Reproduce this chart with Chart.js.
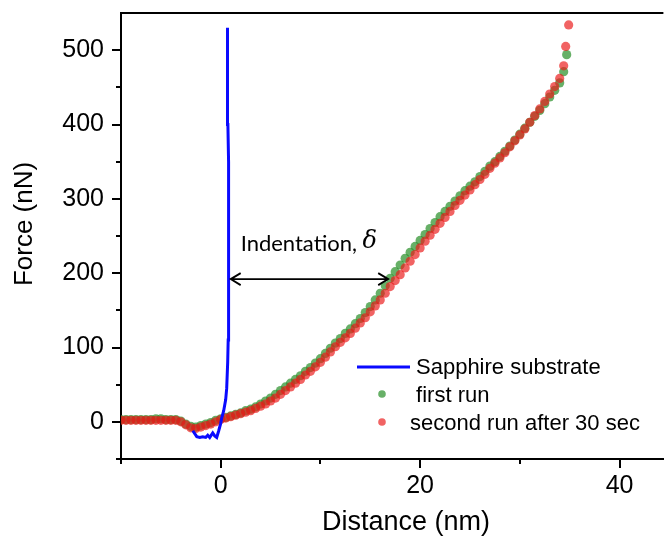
<!DOCTYPE html>
<html>
<head>
<meta charset="utf-8" />
<title>Force vs Distance</title>
<script src="https://cdn.jsdelivr.net/npm/chart.js"></script>
<style>
  body { margin: 0; padding: 0; background: #fff; }
  #wrap { width: 668px; height: 539px; }
</style>
</head>
<body>
<div id="wrap"><canvas id="chart" width="668" height="539"></canvas></div>
<script>
// sapphire substrate (blue line)
var sapphireX = [-2.8, -2.4, -2.1, -1.8, -1.5, -1.3, -1.1, -0.8, -0.6, -0.4, -0.2, 0.0, 0.1, 0.3, 0.5, 0.6, 0.7, 0.75, 0.8, 0.82, 0.8, 0.78, 0.75, 0.72, 0.7, 0.68, 0.67];
var sapphireF = [-12, -20, -21, -20, -21, -18, -21, -15, -19, -21, -12, -2, 5, 15, 30, 45, 80, 110, 140, 200, 250, 300, 350, 400, 450, 500, 530];

// first run (green)
var firstRunX = [-10, -9.5, -9, -8.5, -8, -7.5, -7, -6.5, -6, -5.5,
  -5, -4.5, -4, -3.5, -3, -2.5, -2, -1.5, -1, -0.5,
  0, 0.5, 1, 1.5, 2, 2.5, 3, 3.5, 4, 4.5,
  5, 5.5, 6, 6.5, 7, 7.5, 8, 8.5, 9, 9.5,
  10, 10.5, 11, 11.5, 12, 12.5, 13, 13.5, 14, 14.5,
  15, 15.5, 16, 16.5, 17, 17.5, 18, 18.5, 19, 19.5,
  20, 20.5, 21, 21.5, 22, 22.5, 23, 23.5, 24, 24.5,
  25, 25.5, 26, 26.5, 27, 27.5, 28, 28.5, 29, 29.5,
  30, 30.5, 31, 31.5, 32, 32.5, 33, 33.5, 34, 34.4, 34.7];
var firstRunF = [3, 3, 3, 3, 3, 3, 3, 4, 4, 3,
  3, 3, 1, -3, -6, -7, -5, -3, -1, 2,
  4, 6, 8, 10, 12, 15, 17, 20, 24, 28,
  32, 37, 42, 47, 52, 57, 62, 68, 73, 79,
  85, 92, 99, 106, 112, 119, 125, 132, 139, 147,
  155, 164, 173, 183, 193, 202, 211, 220, 228, 236,
  244, 252, 260, 268, 276, 283, 290, 297, 304, 311,
  317, 323, 330, 337, 344, 350, 357, 364, 371, 379,
  387, 395, 403, 411, 419, 428, 437, 446, 456, 471, 494];

// second run after 30 sec (red)
var secondRunX = [-10, -9.5, -9, -8.5, -8, -7.5, -7, -6.5, -6, -5.5,
  -5, -4.5, -4, -3.5, -3, -2.5, -2, -1.5, -1, -0.5,
  0, 0.5, 1, 1.5, 2, 2.5, 3, 3.5, 4, 4.5,
  5, 5.5, 6, 6.5, 7, 7.5, 8, 8.5, 9, 9.5,
  10, 10.5, 11, 11.5, 12, 12.5, 13, 13.5, 14, 14.5,
  15, 15.5, 16, 16.5, 17, 17.5, 18, 18.5, 19, 19.5,
  20, 20.5, 21, 21.5, 22, 22.5, 23, 23.5, 24, 24.5,
  25, 25.5, 26, 26.5, 27, 27.5, 28, 28.5, 29, 29.5,
  30, 30.5, 31, 31.5, 32, 32.5, 33, 33.5, 34, 34.4, 34.6, 34.9];
var secondRunF = [2, 2, 2, 2, 2, 2, 2, 2, 2, 2,
  2, 2, 0, -4, -8, -9, -7, -5, -3, 0,
  3, 5, 7, 9, 11, 13, 15, 18, 21, 24,
  28, 32, 37, 42, 47, 52, 57, 63, 68, 74,
  80, 87, 94, 101, 107, 113, 119, 126, 133, 140,
  148, 156, 164, 173, 182, 190, 198, 207, 216, 225,
  234, 243, 251, 259, 267, 275, 283, 291, 298, 305,
  312, 319, 326, 333, 341, 348, 355, 362, 370, 378,
  386, 394, 403, 412, 421, 431, 441, 451, 462, 479, 505, 534];

// axis ranges and ticks
var xMin = -10, xMax = 44.4;
var xTicks = [-10, 0, 10, 20, 30, 40];
var yMin = -50, yMax = 550;
var yTicks = [-50, 0, 50, 100, 150, 200, 250, 300, 350, 400, 450, 500];

// indentation arrow: from substrate to sample at this force
var arrowForce = 192, arrowFrom = 1.0, arrowTo = 16.8;

var FONT = "'Liberation Sans', Arial, sans-serif";
var GREEN = 'rgba(45,145,45,0.72)';
var RED = 'rgba(235,25,25,0.68)';
var BLUE = '#0a0aff';

function pts(xs, ys) {
  return xs.map(function (x, i) { return { x: x, y: ys[i] }; });
}

function noPad(s) {
  s.paddingTop = 0; s.paddingBottom = 0; s.paddingLeft = 0; s.paddingRight = 0;
}

var extras = {
  id: 'extras',
  afterDraw: function (chart) {
    var ctx = chart.ctx;
    var xs = chart.scales.x, ys = chart.scales.y;
    var a = chart.chartArea;
    ctx.save();
    ctx.strokeStyle = '#000';
    ctx.lineWidth = 2;

    // top frame line
    ctx.beginPath();
    ctx.moveTo(a.left - 1, a.top);
    ctx.lineTo(a.right, a.top);
    ctx.stroke();

    // tick marks (outward), major longer
    xTicks.forEach(function (v) {
      var px = Math.round(xs.getPixelForValue(v));
      var len = v % 20 === 0 ? 9 : 5;
      ctx.beginPath();
      ctx.moveTo(px, a.bottom);
      ctx.lineTo(px, a.bottom + len);
      ctx.stroke();
    });
    yTicks.forEach(function (v) {
      var py = Math.round(ys.getPixelForValue(v));
      var len = v % 100 === 0 ? 9 : 5;
      ctx.beginPath();
      ctx.moveTo(a.left, py);
      ctx.lineTo(a.left - len, py);
      ctx.stroke();
    });

    // axis titles
    ctx.fillStyle = '#000';
    ctx.textBaseline = 'middle';
    ctx.textAlign = 'center';
    ctx.font = '27px ' + FONT;
    ctx.fillText('Distance (nm)', 406, 523);
    ctx.save();
    ctx.translate(25, 224);
    ctx.rotate(-Math.PI / 2);
    ctx.font = '26px ' + FONT;
    ctx.fillText('Force (nN)', 0, 0);
    ctx.restore();

    // indentation arrow
    var ay = ys.getPixelForValue(arrowForce);
    var x1 = xs.getPixelForValue(arrowFrom), x2 = xs.getPixelForValue(arrowTo);
    ctx.lineWidth = 1.8;
    ctx.beginPath();
    ctx.moveTo(x1, ay); ctx.lineTo(x2, ay);
    ctx.moveTo(x1 + 10, ay - 6); ctx.lineTo(x1, ay); ctx.lineTo(x1 + 10, ay + 6);
    ctx.moveTo(x2 - 10, ay - 6); ctx.lineTo(x2, ay); ctx.lineTo(x2 - 10, ay + 6);
    ctx.stroke();

    ctx.textAlign = 'left';
    ctx.font = "22px Lato, 'Open Sans', sans-serif";
    var tx = xs.getPixelForValue(2.0), ty = ys.getPixelForValue(240);
    var label = 'Indentation, ';
    ctx.fillText(label, tx, ty);
    var w = ctx.measureText(label).width;
    ctx.font = "italic 24px 'DejaVu Serif', 'Liberation Serif', serif";
    ctx.fillText('\u03b4', tx + w, ty - 2);

    // legend
    ctx.font = '22px ' + FONT;
    ctx.strokeStyle = BLUE;
    ctx.lineWidth = 3;
    ctx.beginPath();
    ctx.moveTo(357, 367); ctx.lineTo(410, 367);
    ctx.stroke();
    ctx.fillText('Sapphire substrate', 416, 368);
    ctx.fillStyle = GREEN;
    ctx.beginPath(); ctx.arc(382, 394, 3.8, 0, Math.PI * 2); ctx.fill();
    ctx.fillStyle = '#000';
    ctx.fillText(' first run', 410, 396);
    ctx.fillStyle = RED;
    ctx.beginPath(); ctx.arc(382, 422, 3.8, 0, Math.PI * 2); ctx.fill();
    ctx.fillStyle = '#000';
    ctx.fillText('second run after 30 sec', 410, 424);
    ctx.restore();
  }
};

new Chart(document.getElementById('chart'), {
  type: 'scatter',
  data: {
    datasets: [
      {
        label: 'Sapphire substrate',
        data: pts(sapphireX, sapphireF),
        showLine: true,
        borderColor: BLUE,
        borderWidth: 3,
        pointRadius: 0,
        tension: 0,
        order: 0
      },
      {
        label: 'second run after 30 sec',
        data: pts(secondRunX, secondRunF),
        backgroundColor: RED,
        borderWidth: 0,
        pointRadius: 4.6,
        order: 1
      },
      {
        label: 'first run',
        data: pts(firstRunX, firstRunF),
        backgroundColor: GREEN,
        borderWidth: 0,
        pointRadius: 4.6,
        order: 2
      }
    ]
  },
  options: {
    responsive: false,
    animation: false,
    devicePixelRatio: 1,
    layout: { padding: { top: 13, right: 0, left: 0, bottom: 0 } },
    plugins: {
      legend: { display: false },
      tooltip: { enabled: false }
    },
    scales: {
      x: {
        type: 'linear',
        min: xMin,
        max: xMax,
        afterBuildTicks: function (s) {
          s.ticks = xTicks.map(function (v) { return { value: v }; });
        },
        afterFit: function (s) { s.height = 80; noPad(s); },
        grid: { display: false },
        border: { display: true, color: '#000', width: 2 },
        ticks: {
          autoSkip: false,
          maxRotation: 0,
          padding: 4,
          color: '#000',
          font: { family: FONT, size: 25 },
          callback: function (v) { return v % 20 === 0 ? v : ''; }
        }
      },
      y: {
        type: 'linear',
        min: yMin,
        max: yMax,
        afterBuildTicks: function (s) {
          s.ticks = yTicks.map(function (v) { return { value: v }; });
        },
        afterFit: function (s) { s.width = 121; noPad(s); },
        grid: { display: false },
        border: { display: true, color: '#000', width: 2 },
        ticks: {
          autoSkip: false,
          padding: 9,
          color: '#000',
          font: { family: FONT, size: 25 },
          callback: function (v) { return v % 100 === 0 ? v : ''; }
        }
      }
    }
  },
  plugins: [extras]
});
</script>
</body>
</html>
